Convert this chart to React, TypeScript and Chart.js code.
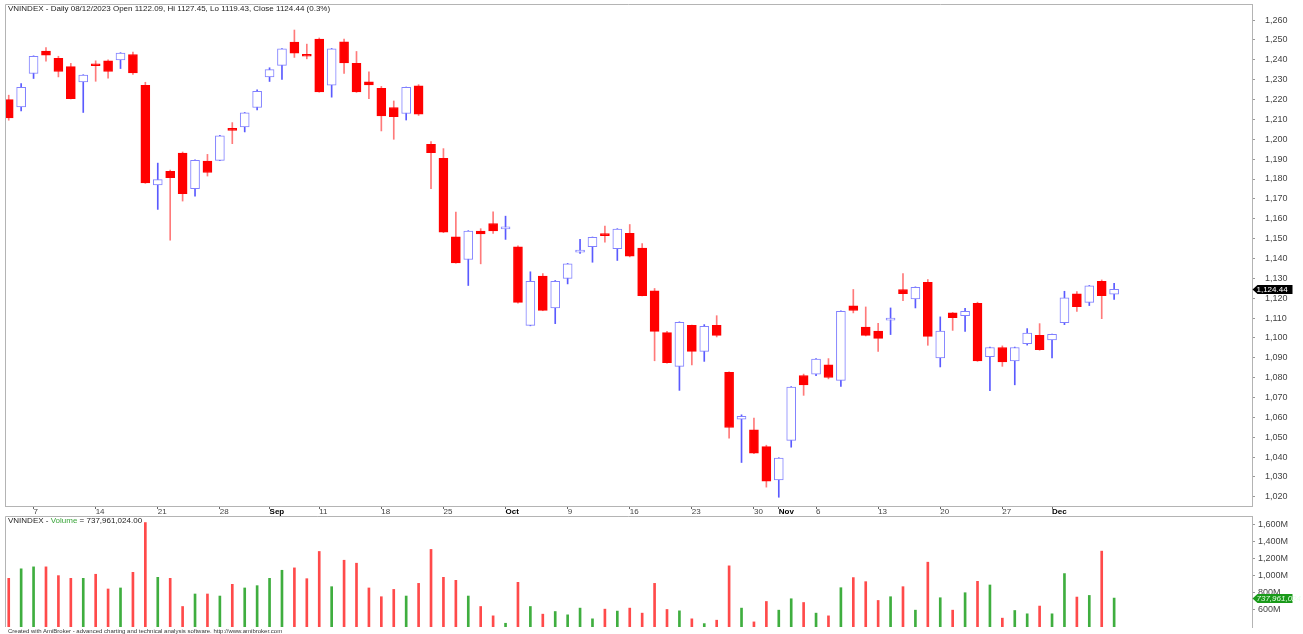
import React, { useEffect, useRef } from "react";
import { Chart, registerables } from "chart.js";

Chart.register(...registerables);

const FONT = "Arial, 'Liberation Sans', Helvetica, sans-serif";

// ---- data ----
const dates = [
  "2023-08-03", "2023-08-04", "2023-08-07", "2023-08-08", "2023-08-09", "2023-08-10", "2023-08-11",
  "2023-08-14", "2023-08-15", "2023-08-16", "2023-08-17", "2023-08-18", "2023-08-21", "2023-08-22",
  "2023-08-23", "2023-08-24", "2023-08-25", "2023-08-28", "2023-08-29", "2023-08-30", "2023-08-31",
  "2023-09-05", "2023-09-06", "2023-09-07", "2023-09-08", "2023-09-11", "2023-09-12", "2023-09-13",
  "2023-09-14", "2023-09-15", "2023-09-18", "2023-09-19", "2023-09-20", "2023-09-21", "2023-09-22",
  "2023-09-25", "2023-09-26", "2023-09-27", "2023-09-28", "2023-09-29",
  "2023-10-02", "2023-10-03", "2023-10-04", "2023-10-05", "2023-10-06", "2023-10-09", "2023-10-10",
  "2023-10-11", "2023-10-12", "2023-10-13", "2023-10-16", "2023-10-17", "2023-10-18", "2023-10-19",
  "2023-10-20", "2023-10-23", "2023-10-24", "2023-10-25", "2023-10-26", "2023-10-27", "2023-10-30",
  "2023-10-31",
  "2023-11-01", "2023-11-02", "2023-11-03", "2023-11-06", "2023-11-07", "2023-11-08", "2023-11-09",
  "2023-11-10", "2023-11-13", "2023-11-14", "2023-11-15", "2023-11-16", "2023-11-17", "2023-11-20",
  "2023-11-21", "2023-11-22", "2023-11-23", "2023-11-24", "2023-11-27", "2023-11-28", "2023-11-29",
  "2023-11-30",
  "2023-12-01", "2023-12-04", "2023-12-05", "2023-12-06", "2023-12-07", "2023-12-08",
];

const opens = [
  1220.0, 1216.3, 1233.1, 1244.4, 1240.8, 1236.6, 1228.9, 1237.4, 1239.5, 1240.0,
  1242.7, 1227.2, 1177.0, 1183.9, 1193.1, 1175.1, 1189.0, 1189.4, 1204.9, 1206.2,
  1216.0, 1231.4, 1237.2, 1248.9, 1242.2, 1250.4, 1227.2, 1249.1, 1238.2, 1228.9,
  1225.6, 1216.0, 1213.0, 1226.9, 1197.5, 1190.4, 1150.9, 1139.5, 1153.8, 1157.6,
  1154.9, 1145.9, 1106.3, 1131.1, 1115.1, 1129.9, 1143.2, 1145.9, 1151.9, 1144.9,
  1152.7, 1145.2, 1123.7, 1102.7, 1085.7, 1106.3, 1093.2, 1106.3, 1082.7, 1059.1,
  1053.7, 1045.3, 1028.5, 1048.4, 1081.1, 1081.8, 1086.5, 1078.6, 1116.1, 1105.5,
  1103.5, 1109.0, 1124.4, 1119.7, 1128.0, 1089.9, 1112.6, 1111.2, 1117.4, 1090.6,
  1095.2, 1088.4, 1097.1, 1101.3, 1099.0, 1107.7, 1122.2, 1117.9, 1128.5, 1122.09,
];

const highs = [
  1222.2, 1228.1, 1242.0, 1246.2, 1241.8, 1238.2, 1232.5, 1239.5, 1240.0, 1243.6,
  1243.9, 1228.7, 1188.0, 1184.5, 1193.6, 1189.6, 1192.4, 1202.0, 1208.4, 1213.5,
  1224.9, 1236.0, 1245.7, 1255.0, 1247.9, 1251.0, 1245.7, 1250.4, 1244.2, 1233.9,
  1226.6, 1219.3, 1226.3, 1227.5, 1198.8, 1195.3, 1163.3, 1154.0, 1155.0, 1163.5,
  1161.3, 1146.4, 1133.3, 1132.4, 1128.9, 1137.5, 1149.6, 1150.8, 1156.3, 1155.0,
  1157.1, 1147.5, 1124.9, 1103.3, 1108.1, 1106.5, 1106.7, 1111.2, 1083.0, 1061.3,
  1059.6, 1046.0, 1039.7, 1075.5, 1081.8, 1089.6, 1089.6, 1113.6, 1124.4, 1115.6,
  1107.4, 1115.1, 1132.4, 1125.7, 1129.4, 1110.6, 1112.8, 1114.9, 1118.0, 1095.4,
  1096.0, 1095.4, 1104.7, 1107.2, 1102.0, 1123.5, 1123.3, 1126.4, 1129.2, 1127.45,
];

const lows = [
  1209.6, 1214.3, 1230.6, 1239.3, 1231.4, 1220.3, 1213.5, 1229.2, 1230.8, 1235.6,
  1232.6, 1177.8, 1164.7, 1149.2, 1168.9, 1171.4, 1181.5, 1189.2, 1197.8, 1203.7,
  1214.8, 1229.1, 1230.1, 1241.2, 1240.5, 1223.7, 1221.2, 1233.1, 1223.6, 1220.5,
  1204.2, 1200.0, 1209.7, 1212.0, 1175.1, 1153.0, 1137.6, 1126.4, 1137.3, 1152.6,
  1149.6, 1117.5, 1106.1, 1113.7, 1107.2, 1127.2, 1142.5, 1138.1, 1148.2, 1139.0,
  1140.8, 1121.1, 1088.5, 1087.3, 1073.6, 1086.4, 1088.2, 1100.5, 1049.6, 1037.3,
  1041.8, 1024.9, 1019.8, 1045.0, 1071.1, 1081.0, 1079.4, 1075.6, 1112.6, 1101.0,
  1093.2, 1101.7, 1118.7, 1115.1, 1096.3, 1085.4, 1103.8, 1103.3, 1088.2, 1073.4,
  1085.7, 1076.4, 1096.4, 1093.8, 1089.9, 1106.7, 1113.4, 1116.3, 1109.7, 1119.43,
];

const closes = [
  1210.7, 1226.1, 1241.7, 1242.3, 1234.1, 1220.5, 1232.3, 1237.0, 1234.1, 1243.4,
  1233.4, 1178.0, 1179.7, 1180.7, 1172.6, 1189.4, 1183.3, 1201.8, 1204.5, 1213.3,
  1224.2, 1235.1, 1245.5, 1243.4, 1241.8, 1223.9, 1245.5, 1238.5, 1223.9, 1227.4,
  1211.7, 1211.4, 1226.1, 1212.6, 1193.3, 1153.2, 1137.8, 1153.8, 1152.4, 1153.9,
  1155.3, 1117.9, 1128.5, 1113.9, 1128.5, 1137.3, 1143.6, 1150.6, 1151.5, 1154.8,
  1141.1, 1121.3, 1103.3, 1087.5, 1107.9, 1093.2, 1105.8, 1101.3, 1054.9, 1060.5,
  1042.0, 1027.9, 1039.5, 1075.3, 1076.4, 1089.4, 1080.1, 1113.4, 1113.8, 1101.3,
  1099.8, 1109.4, 1122.3, 1125.5, 1100.8, 1103.5, 1110.2, 1113.4, 1088.4, 1095.2,
  1087.9, 1095.2, 1102.5, 1094.1, 1101.8, 1120.2, 1115.8, 1126.2, 1121.3, 1124.44,
];

// volume in millions of shares
const volumes = [
  970, 1082, 1105, 1105, 1002, 970, 970, 1018, 845, 857,
  1041, 1626, 982, 970, 639, 786, 786, 762, 900, 857,
  884, 970, 1065, 1093, 966, 1286, 872, 1183, 1148, 857,
  754, 840, 762, 911, 1310, 982, 947, 762, 639, 529,
  442, 923, 639, 549, 580, 541, 620, 494, 608, 585,
  620, 561, 911, 604, 588, 494, 438, 478, 1117, 620,
  458, 698, 596, 730, 686, 561, 529, 860, 979, 931,
  710, 754, 872, 596, 1160, 742, 596, 801, 935, 892,
  502, 592, 553, 644, 553, 1026, 750, 769, 1290, 737.961024,
];

const tickDates = [
  "2023-08-07", "2023-08-14", "2023-08-21", "2023-08-28", "2023-09-05", "2023-09-11", "2023-09-18",
  "2023-09-25", "2023-10-02", "2023-10-09", "2023-10-16", "2023-10-23", "2023-10-30", "2023-11-01",
  "2023-11-06", "2023-11-13", "2023-11-20", "2023-11-27", "2023-12-01",
];
const tickLabels = [
  "7", "14", "21", "28", "Sep", "11", "18", "25", "Oct", "9", "16", "23", "30", "Nov",
  "6", "13", "20", "27", "Dec",
];
const priceTicks = [
  1020, 1030, 1040, 1050, 1060, 1070, 1080, 1090, 1100, 1110, 1120, 1130, 1140,
  1150, 1160, 1170, 1180, 1190, 1200, 1210, 1220, 1230, 1240, 1250, 1260,
];
const volumeTicks = [600, 800, 1000, 1200, 1400, 1600];

const X_MIN = -0.3;
const X_MAX = 100.1;

const fmt = (v: number) => v.toLocaleString("en-US");

export default function App() {
  const priceRef = useRef<HTMLCanvasElement>(null);
  const volRef = useRef<HTMLCanvasElement>(null);

  useEffect(() => {
    const up = closes.map((c, i) => c >= opens[i]);
    const tickIdx = tickDates.map((d) => dates.indexOf(d));
    const labelOf = (v: number) => {
      const k = tickIdx.indexOf(Math.round(v));
      return k >= 0 ? tickLabels[k] : "";
    };
    const isMonth = (v: any) => v != null && /^[A-Za-z]/.test(labelOf(Number(v)));
    const tickVal = (c: any) => (c && c.tick ? c.tick.value : null);

    const bodies = dates.map((_, i) => ({
      x: i,
      y: [Math.min(opens[i], closes[i]), Math.max(opens[i], closes[i])],
    }));
    const wicks = dates.map((_, i) => ({ x: i, y: [lows[i], highs[i]] }));
    const vols = dates.map((_, i) => ({ x: i, y: volumes[i] }));

    const lastClose = closes[closes.length - 1];
    const lastVol = volumes[volumes.length - 1];

    const noPad = (s: any) => {
      s.paddingTop = 0;
      s.paddingBottom = 0;
      s.paddingLeft = 0;
      s.paddingRight = 0;
    };

    const framePlugin = {
      id: "frame",
      afterDraw(chart: any) {
        const { ctx, chartArea } = chart;
        ctx.save();
        ctx.strokeStyle = "#b4b4b4";
        ctx.lineWidth = 1;
        ctx.beginPath();
        ctx.moveTo(chartArea.left + 0.5, chartArea.bottom);
        ctx.lineTo(chartArea.left + 0.5, chartArea.top + 0.5);
        ctx.lineTo(chartArea.right, chartArea.top + 0.5);
        ctx.stroke();
        ctx.restore();
      },
    };

    const makeTag = (value: number, text: string, bg: string, fg: string, italic: boolean) => ({
      id: "lastTag",
      afterDraw(chart: any) {
        const { ctx, chartArea } = chart;
        const y = Math.round(chart.scales.y.getPixelForValue(value)) + 0.5;
        const x0 = chartArea.right + 0.5;
        ctx.save();
        ctx.fillStyle = bg;
        ctx.beginPath();
        ctx.moveTo(x0, y);
        ctx.lineTo(x0 + 5, y - 4.5);
        ctx.lineTo(x0 + 40, y - 4.5);
        ctx.lineTo(x0 + 40, y + 4.5);
        ctx.lineTo(x0 + 5, y + 4.5);
        ctx.closePath();
        ctx.fill();
        ctx.fillStyle = fg;
        ctx.font = (italic ? "italic " : "") + "8px " + FONT;
        ctx.textBaseline = "middle";
        ctx.textAlign = "left";
        ctx.fillText(text, x0 + 4, y + 0.5);
        ctx.restore();
      },
    });

    const priceChart = new Chart(priceRef.current as HTMLCanvasElement, {
      type: "bar",
      data: {
        datasets: [
          {
            label: "body",
            data: bodies as any,
            backgroundColor: up.map((u) => (u ? "#ffffff" : "#ff0000")),
            borderColor: up.map((u) => (u ? "#8080ff" : "#ff0000")),
            borderWidth: 1,
            borderSkipped: false,
            barThickness: 9,
            minBarLength: 2,
            grouped: false,
          } as any,
          {
            label: "wick",
            data: wicks as any,
            backgroundColor: up.map((u) => (u ? "#5a5aff" : "#ff7a7a")),
            borderWidth: 0,
            barThickness: 1,
            grouped: false,
          } as any,
        ],
      },
      options: {
        animation: false,
        responsive: false,
        maintainAspectRatio: false,
        devicePixelRatio: 1,
        events: [],
        layout: { padding: { left: 5, top: 4, right: 0, bottom: 0 } },
        plugins: { legend: { display: false }, tooltip: { enabled: false } },
        scales: {
          x: {
            type: "linear",
            min: X_MIN,
            max: X_MAX,
            offset: false,
            afterBuildTicks: (s: any) => {
              s.ticks = tickIdx.map((v) => ({ value: v }));
            },
            afterFit: (s: any) => {
              s.height = 13;
              noPad(s);
            },
            grid: {
              offset: false,
              drawOnChartArea: false,
              drawTicks: true,
              tickLength: 3,
              color: "#666",
            },
            border: { display: true, color: "#b4b4b4" },
            ticks: {
              autoSkip: false,
              maxRotation: 0,
              minRotation: 0,
              align: "start",
              padding: -2,
              color: (c: any) => (isMonth(tickVal(c)) ? "#000" : "#444"),
              font: (c: any) => ({
                family: FONT,
                size: 8,
                weight: isMonth(tickVal(c)) ? "bold" : "normal",
              }),
              callback: (v: any) => labelOf(Number(v)),
            },
          } as any,
          y: {
            type: "linear",
            position: "right",
            min: 1015.4,
            max: 1268.1,
            afterBuildTicks: (s: any) => {
              s.ticks = priceTicks.map((v) => ({ value: v }));
            },
            afterFit: (s: any) => {
              s.width = 51;
              noPad(s);
            },
            grid: { drawOnChartArea: false, drawTicks: true, tickLength: 3, color: "#999" },
            border: { display: true, color: "#b4b4b4" },
            ticks: {
              padding: 10,
              color: "#444",
              font: { family: FONT, size: 9 },
              callback: (v: any) => fmt(Number(v)),
            },
          } as any,
        },
      },
      plugins: [framePlugin, makeTag(lastClose, fmt(lastClose), "#000", "#fff", false)],
    });

    const volChart = new Chart(volRef.current as HTMLCanvasElement, {
      type: "bar",
      data: {
        datasets: [
          {
            label: "Volume",
            data: vols as any,
            backgroundColor: up.map((u) => (u ? "#3fae3f" : "#ff4a4a")),
            borderWidth: 0,
            barThickness: 2,
            grouped: false,
          } as any,
        ],
      },
      options: {
        animation: false,
        responsive: false,
        maintainAspectRatio: false,
        devicePixelRatio: 1,
        events: [],
        layout: { padding: { left: 5, top: 0, right: 0, bottom: 7 } },
        plugins: { legend: { display: false }, tooltip: { enabled: false } },
        scales: {
          x: {
            type: "linear",
            min: X_MIN,
            max: X_MAX,
            offset: false,
            display: false,
          } as any,
          y: {
            type: "linear",
            position: "right",
            min: 398,
            max: 1703,
            afterBuildTicks: (s: any) => {
              s.ticks = volumeTicks.map((v) => ({ value: v }));
            },
            afterFit: (s: any) => {
              s.width = 51;
              noPad(s);
            },
            grid: { drawOnChartArea: false, drawTicks: true, tickLength: 3, color: "#999" },
            border: { display: true, color: "#b4b4b4" },
            ticks: {
              padding: 3,
              color: "#444",
              font: { family: FONT, size: 9 },
              callback: (v: any) => fmt(Number(v)) + "M",
            },
          } as any,
        },
      },
      plugins: [
        framePlugin,
        makeTag(lastVol, fmt(Math.round(lastVol * 1e6)), "#1a9a1a", "#e8ffe8", true),
      ],
    });

    return () => {
      priceChart.destroy();
      volChart.destroy();
    };
  }, []);

  const lastC = closes[closes.length - 1];
  const prevC = closes[closes.length - 2];
  const pct = ((lastC - prevC) / prevC) * 100;
  const lastV = volumes[volumes.length - 1] * 1e6;

  return (
    <div
      style={{
        position: "fixed",
        left: 0,
        top: 0,
        width: 1303,
        height: 634,
        background: "#fff",
        overflow: "hidden",
        fontFamily: FONT,
      }}
    >
      <canvas
        ref={priceRef}
        width={1303}
        height={519}
        style={{ position: "absolute", left: 0, top: 0, width: 1303, height: 519 }}
      />
      <canvas
        ref={volRef}
        width={1303}
        height={118}
        style={{ position: "absolute", left: 0, top: 516, width: 1303, height: 118 }}
      />
      <div
        style={{
          position: "absolute",
          left: 8,
          top: 4,
          fontSize: 8,
          lineHeight: "10px",
          color: "#222",
          whiteSpace: "nowrap",
        }}
      >
        {`VNINDEX - Daily 08/12/2023 Open ${opens[opens.length - 1].toFixed(2)}, Hi ${highs[
          highs.length - 1
        ].toFixed(2)}, Lo ${lows[lows.length - 1].toFixed(2)}, Close ${lastC.toFixed(2)} (${pct.toFixed(1)}%)`}
      </div>
      <div
        style={{
          position: "absolute",
          left: 8,
          top: 516,
          fontSize: 8,
          lineHeight: "10px",
          color: "#222",
          whiteSpace: "nowrap",
        }}
      >
        VNINDEX - <span style={{ color: "#3aa53a" }}>Volume</span>
        {` = ${lastV.toLocaleString("en-US", { minimumFractionDigits: 2, maximumFractionDigits: 2 })}`}
      </div>
      <div
        style={{
          position: "absolute",
          left: 8,
          top: 628,
          fontSize: 6,
          lineHeight: "7px",
          color: "#333",
          whiteSpace: "nowrap",
        }}
      >
        Created with AmiBroker - advanced charting and technical analysis software. http://www.amibroker.com
      </div>
    </div>
  );
}
